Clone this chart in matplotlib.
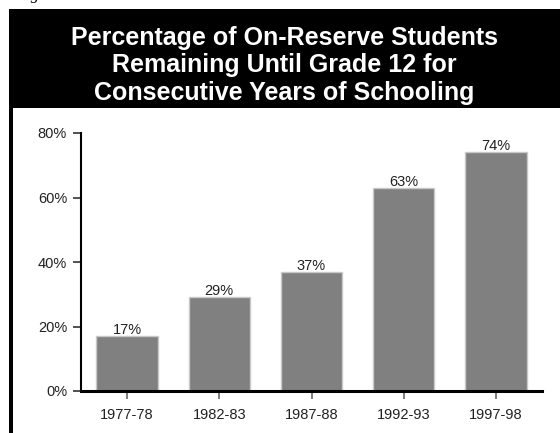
import matplotlib
matplotlib.use("Agg")
import matplotlib.pyplot as plt
from matplotlib.patches import Rectangle
from matplotlib.ticker import FuncFormatter

categories = ["1977-78", "1982-83", "1987-88", "1992-93", "1997-98"]
values = [17, 29, 37, 63, 74]
yticks = [0, 20, 40, 60, 80]
title_lines = ["Percentage of On-Reserve Students",
               "Remaining Until Grade 12 for",
               "Consecutive Years of Schooling"]

plt.rcParams['font.family'] = ['Liberation Sans', 'DejaVu Sans']

W, H = 560, 433
fig = plt.figure(figsize=(W / 100, H / 100), dpi=100)
fig.patch.set_facecolor('white')

# Header black box and left border
fig.patches.append(Rectangle((9 / W, 1 - 108 / H), 1 - 9 / W, 99 / H,
                             transform=fig.transFigure, facecolor='black',
                             edgecolor='none', zorder=0))
fig.patches.append(Rectangle((9 / W, 0), 4 / W, 1 - 108 / H,
                             transform=fig.transFigure, facecolor='black',
                             edgecolor='none', zorder=0))

# Cut-off "Figure" caption at the very top
fig.text(16 / W, 1 + 1 / H, "Figure", family='Liberation Serif', style='italic',
         fontsize=12, color='black', va='baseline', ha='left')

baselines = [45, 72, 100]
for line, b in zip(title_lines, baselines):
    fig.text(284.5 / W, 1 - b / H, line, color='white', fontsize=18,
             fontweight='bold', ha='center', va='baseline')

ax = fig.add_axes([81 / W, 1 - 391 / H, (542 - 81) / W, (391 - 133) / H])
x = list(range(len(categories)))
bars = ax.bar(x, values, width=0.665, color='#808080', edgecolor='#c8c8c8',
              linewidth=1.0, zorder=2)
for xi, v in zip(x, values):
    ax.annotate(f"{v}%", (xi, v), xytext=(0, 1.5), textcoords='offset points',
                ha='center', va='baseline', fontsize=10.5, color='#222222')

ax.set_xlim(-0.5, len(categories) - 0.5)
ax.set_ylim(0, 80)
ax.set_yticks(yticks)
ax.yaxis.set_major_formatter(FuncFormatter(lambda v, p: f"{int(v)}%"))
ax.set_xticks(x)
ax.set_xticklabels(categories)

for s in ['top', 'right']:
    ax.spines[s].set_visible(False)
ax.spines['left'].set_linewidth(1.5)
ax.spines['left'].set_color('black')
ax.spines['bottom'].set_linewidth(2.2)
ax.spines['bottom'].set_color('black')
ax.spines['bottom'].set_zorder(3)

ax.tick_params(axis='y', direction='out', length=6, width=1.2, color='#333333',
               labelsize=10.5, labelcolor='#222222', pad=4)
ax.tick_params(axis='x', direction='out', length=6, width=1.2, color='#666666',
               labelsize=10.5, labelcolor='#222222', pad=6)

fig.savefig("out.png", dpi=100, facecolor='white')
